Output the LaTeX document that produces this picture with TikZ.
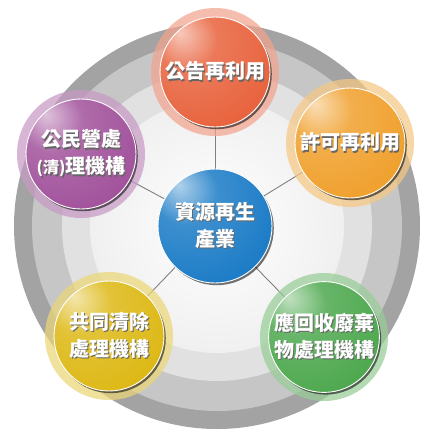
\documentclass[tikz,border=0pt]{standalone}
\usepackage{fontspec}
\newfontfamily\cjk{Noto Sans CJK TC}
\usetikzlibrary{backgrounds,shadows}

\definecolor{ringA}{HTML}{A3A3A3}
\definecolor{ringB}{HTML}{C6C6C6}
\definecolor{ringC}{HTML}{E1E1E1}
\definecolor{ringD}{HTML}{F0F0F0}
\definecolor{hubblue}{HTML}{1A7BC6}
\definecolor{tomato}{HTML}{E8623C}
\definecolor{amber}{HTML}{F0A02C}
\definecolor{orchid}{HTML}{A1519B}
\definecolor{mustard}{HTML}{DDB814}
\definecolor{leaf}{HTML}{4DA84E}

\colorlet{orbcol}{hubblue}
\pgfdeclareradialshading[orbcol]{orbshade}{\pgfqpoint{-16bp}{18bp}}{%
  color(0bp)=(orbcol!35!white);
  color(14bp)=(orbcol!85!white);
  color(38bp)=(orbcol);
  color(76bp)=(orbcol!85!black)}

% white text with a dark shadow
\newcommand\shd[1]{\makebox[0pt][l]{\kern1.5pt\raisebox{-1.5pt}{\textcolor{black!60}{#1}}}#1}

\begin{document}
\begin{tikzpicture}[x=1pt,y=-1pt,font=\cjk\bfseries\fontsize{20}{27}\selectfont,
    orb/.style={circle,inner sep=0pt,minimum size=110pt,draw=white,line width=0.9pt,
      text=white,align=center,/utils/exec={\colorlet{orbcol}{#1}},shade,shading=orbshade,
      drop shadow={shadow xshift=1.8pt,shadow yshift=-2.2pt,opacity=0.55,fill=black}},
    halo/.style={fill=#1!58!white,opacity=0.72},
    link/.style={draw=black!50,line width=0.9pt}]
    \useasboundingbox (0,0) rectangle (434,432);

    \node[orb=hubblue,minimum size=114pt] (core) at (215,226) {\shd{資源再生}\\\shd{產業}};

    \node[orb=tomato] (notice) at (215,72) {\shd{公告再利用}};
    \node[orb=amber] (permit) at (350,143) {\shd{許可再利用}};
    \node[orb=orchid] (civic) at (81,154) {\shd{公民營處}\\\shd{{\fontsize{16}{16}\selectfont(清)}理機構}};
    \node[orb=mustard] (joint) at (109,336) {\shd{共同清除}\\\shd{處理機構}};
    \node[orb=leaf] (recycle) at (324,337) {\shd{應回收廢棄}\\\shd{物處理機構}};

    \begin{pgfonlayer}{background}
    \fill[white] (0,0) rectangle (434,432);
    % rings
    \fill[ringA] (217,226) circle (203);
    \fill[ringB] (217,226) circle (185);
    \fill[ringC] (217,226) circle (155);
    \fill[ringD] (217,226) circle (127);
    \shade[inner color=white,outer color=ringD] (217,226) circle (126);

    \foreach \n in {notice,permit,civic,joint,recycle}
        \draw[link] (core) -- (\n);

    \fill[halo=tomato] (notice) circle (64);
    \fill[halo=amber] (permit) circle (64);
    \fill[halo=orchid] (civic) circle (64);
    \fill[halo=mustard] (joint) circle (64);
    \fill[halo=leaf] (recycle) circle (64);
    \end{pgfonlayer}
\end{tikzpicture}
\end{document}
